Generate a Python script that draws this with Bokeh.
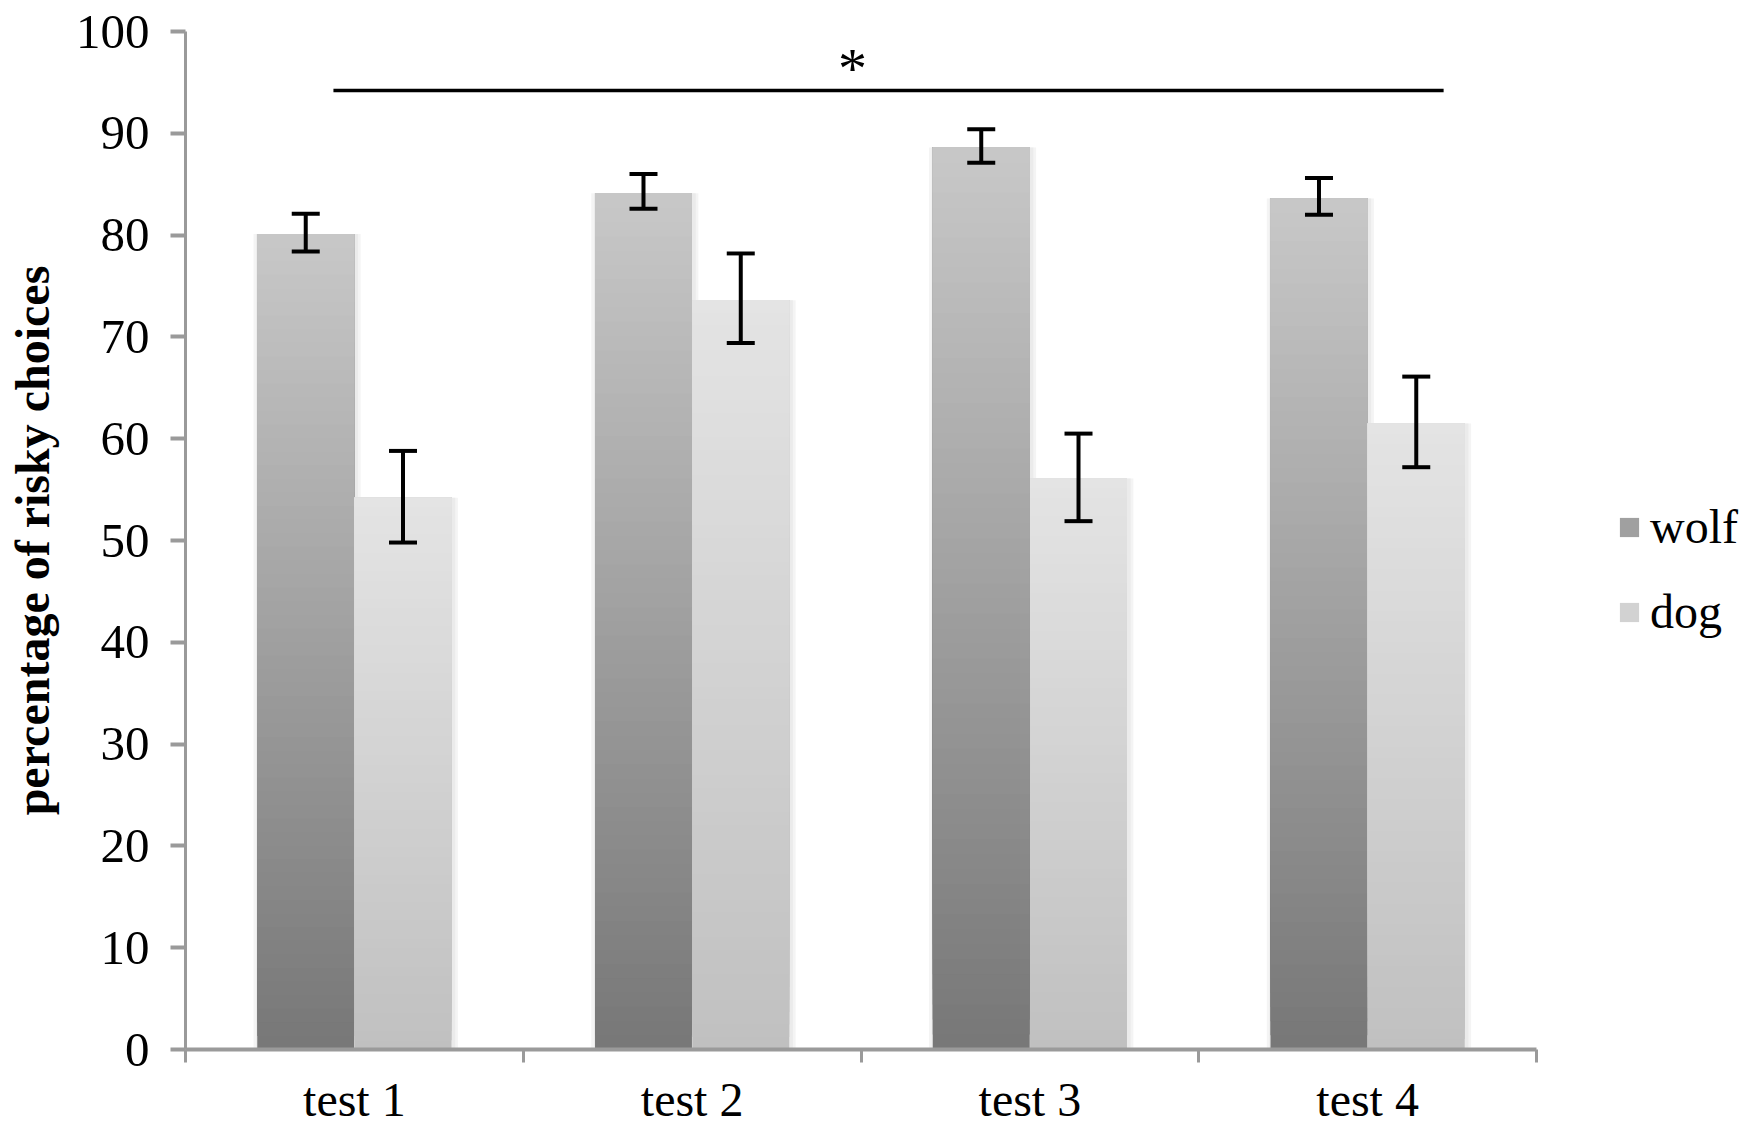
from bokeh.plotting import figure
from bokeh.models import (ColumnDataSource, Range1d, FixedTicker, Whisker, TeeHead,
                          Legend, LegendItem)
from bokeh.core.properties import value
from bokeh.embed import file_html
from bokeh.resources import INLINE

# ---- data ----
tests = ["test 1", "test 2", "test 3", "test 4"]
series = ["wolf", "dog"]
wolf = [80.1, 84.1, 88.6, 83.6]
dog = [54.2, 73.6, 56.1, 61.5]
wolf_lo = [78.4, 82.6, 87.1, 82.0]
wolf_hi = [82.1, 86.0, 90.4, 85.6]
dog_lo = [49.8, 69.4, 51.9, 57.2]
dog_hi = [58.8, 78.2, 60.5, 66.1]
y_ticks = [0, 10, 20, 30, 40, 50, 60, 70, 80, 90, 100]

FONT = "Liberation Serif"
BAR_W = 0.287
OFFS = {"wolf": 0.356, "dog": 0.644}
GRAD = {"wolf": ((0x77, 0x77, 0x77), (0xc8, 0xc8, 0xc8)),
        "dog": ((0xc0, 0xc0, 0xc0), (0xe4, 0xe4, 0xe4))}
NSL = 60

W, H = 1750, 1137
LEFT, TOP, BOTTOM = 185, 31, 88
UNIT = 337.75  # pixels per category
XMAX = (W - LEFT) / UNIT

p = figure(width=W, height=H, output_backend="svg", toolbar_location=None,
           x_range=Range1d(0, XMAX), y_range=Range1d(0, 100),
           min_border_left=LEFT, min_border_right=0, min_border_top=TOP,
           min_border_bottom=BOTTOM)
p.outline_line_color = None
p.xgrid.visible = False
p.ygrid.visible = False
p.background_fill_color = "white"


def hexc(c0, c1, t):
    r = [round(a + (b - a) * t) for a, b in zip(c0, c1)]
    return "#%02x%02x%02x" % tuple(r)


# soft shadows behind the bars
for name, vals in (("wolf", wolf), ("dog", dog)):
    xs = [i + OFFS[name] + 0.004 for i in range(len(vals))]
    p.vbar(x=xs, bottom=0, top=vals, width=BAR_W + 0.03,
           fill_color="#f4f4f4", line_color=None)
    p.vbar(x=xs, bottom=0, top=vals, width=BAR_W + 0.014,
           fill_color="#ebebeb", line_color=None)

renderers = {}
for name, vals in (("wolf", wolf), ("dog", dog)):
    xs, bots, tops, cols = [], [], [], []
    c0, c1 = GRAD[name]
    for k in range(NSL):
        for i, v in enumerate(vals):
            xs.append(i + OFFS[name])
            bots.append(v * k / NSL)
            tops.append(v)
            cols.append(hexc(c0, c1, (k + 0.5) / NSL))
    src = ColumnDataSource(dict(x=xs, bottom=bots, top=tops, color=cols))
    renderers[name] = p.vbar(x="x", bottom="bottom", top="top", width=BAR_W,
                             fill_color="color", line_color=None, source=src)

# error bars
for name, lo, hi in (("wolf", wolf_lo, wolf_hi), ("dog", dog_lo, dog_hi)):
    esrc = ColumnDataSource(dict(x=[i + OFFS[name] for i in range(len(tests))],
                                 lower=lo, upper=hi))
    w = Whisker(base="x", lower="lower", upper="upper", source=esrc,
                line_color="black", line_width=4, level="overlay",
                upper_head=TeeHead(size=28, line_color="black", line_width=4),
                lower_head=TeeHead(size=28, line_color="black", line_width=4))
    p.add_layout(w)

# significance line and asterisk
p.line(x=[0.438, 3.725], y=[94.2, 94.2], line_color="black", line_width=3.5)
p.text(x=[1.975], y=[96.4], text=["*"], text_align="center", text_baseline="middle",
       text_font=value(FONT), text_font_size="58px", text_color="black")

# axes
yax = p.yaxis[0]
yax.ticker = FixedTicker(ticks=y_ticks)
yax.axis_line_color = "#9a9a9a"
yax.axis_line_width = 3
yax.major_tick_line_color = "#9a9a9a"
yax.major_tick_line_width = 4
yax.major_tick_out = 15
yax.major_tick_in = 0
yax.minor_tick_line_color = None
yax.major_label_text_font = FONT
yax.major_label_text_font_size = "49px"
yax.major_label_text_color = "black"
yax.major_label_standoff = 21
yax.axis_label = "percentage of risky choices"
yax.axis_label_text_font = FONT
yax.axis_label_text_font_style = "bold"
yax.axis_label_text_font_size = "48px"
yax.axis_label_text_color = "black"
yax.axis_label_standoff = 14

xax = p.xaxis[0]
xax.bounds = (0, len(tests))
xax.ticker = FixedTicker(ticks=[i + 0.5 for i in range(len(tests))],
                         minor_ticks=list(range(len(tests) + 1)))
xax.major_label_overrides = {i + 0.5: t for i, t in enumerate(tests)}
xax.axis_line_color = "#9a9a9a"
xax.axis_line_width = 4
xax.major_tick_line_color = None
xax.major_tick_out = 0
xax.major_tick_in = 0
xax.minor_tick_line_color = "#9a9a9a"
xax.minor_tick_line_width = 3
xax.minor_tick_out = 13
xax.minor_tick_in = 0
xax.major_label_text_font = FONT
xax.major_label_text_font_size = "48px"
xax.major_label_text_color = "black"
xax.major_label_standoff = 10

# legend
legend = Legend(items=[LegendItem(label=series[0], renderers=[renderers["wolf"]], index=(NSL // 2) * 4),
                       LegendItem(label=series[1], renderers=[renderers["dog"]], index=(NSL // 2) * 4)],
                location=(1432, 410), orientation="vertical")
legend.border_line_color = None
legend.background_fill_alpha = 0
legend.padding = 0
legend.margin = 0
legend.glyph_width = 24
legend.glyph_height = 24
legend.label_height = 40
legend.spacing = 30
legend.label_standoff = 9
legend.label_text_font = FONT
legend.label_text_font_size = "48px"
legend.label_text_color = "black"
p.add_layout(legend, "center")

open("out.html", "w").write(file_html(p, INLINE))
